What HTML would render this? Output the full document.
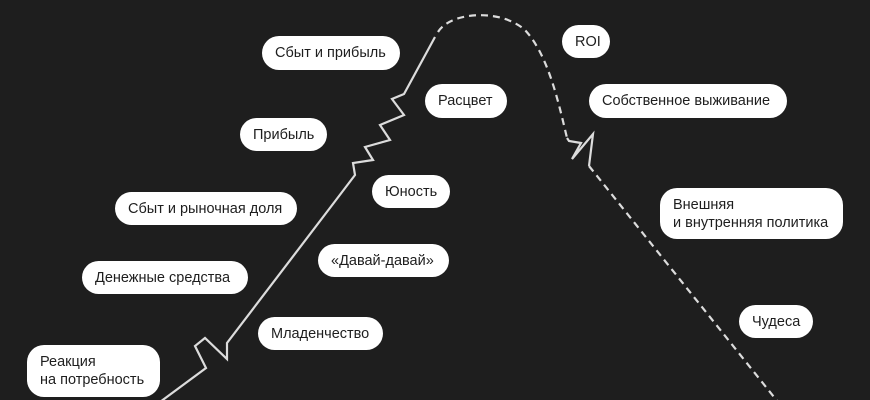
<!DOCTYPE html>
<html><head><meta charset="utf-8"><style>
body{margin:0;width:870px;height:400px;background:#1e1e1e;overflow:hidden;position:relative;font-family:"Liberation Sans","Noto Sans CJK SC",sans-serif}
.p{position:absolute;background:#fff;color:#1e1e1e;border-radius:17px;font-size:14.5px;line-height:18px;box-sizing:border-box;padding:8px 13px;white-space:nowrap}
svg{position:absolute;left:0;top:0}
</style></head><body>
<svg width="870" height="400" viewBox="0 0 870 400">
<g fill="none" stroke="#dcdcdc" stroke-width="2.2" stroke-linejoin="miter">
<polyline points="160,402 206,368 195,346 205,338 227,359 227,343 336,200 355,175 353,163 373,160 365,147 390,140 380,125 404,115 392,99 404,94 435,37"/>
<path d="M438,32 C450,12 500,8 525,30 C548,55 558,100 567,138" stroke-dasharray="7,5"/>
<polyline points="567,138 569,141 581,143 572,159 593,134 589,166"/>
<path d="M589,166 L778,402" stroke-dasharray="7,5"/>
</g>
</svg>
<div class="p" style="left:262px;top:36px;width:138px;height:34px">Сбыт и прибыль</div>
<div class="p" style="left:240px;top:118px;width:87px;height:33px">Прибыль</div>
<div class="p" style="left:425px;top:84px;width:82px;height:34px">Расцвет</div>
<div class="p" style="left:372px;top:175px;width:78px;height:33px">Юность</div>
<div class="p" style="left:115px;top:192px;width:182px;height:33px">Сбыт и рыночная доля</div>
<div class="p" style="left:82px;top:261px;width:166px;height:33px">Денежные средства</div>
<div class="p" style="left:318px;top:244px;width:131px;height:33px">«Давай-давай»</div>
<div class="p" style="left:258px;top:317px;width:125px;height:33px">Младенчество</div>
<div class="p" style="left:27px;top:345px;width:133px;height:52px">Реакция<br>на потребность</div>
<div class="p" style="left:562px;top:25px;width:48px;height:33px">ROI</div>
<div class="p" style="left:589px;top:84px;width:198px;height:34px">Собственное выживание</div>
<div class="p" style="left:660px;top:188px;width:183px;height:51px">Внешняя<br>и внутренняя политика</div>
<div class="p" style="left:739px;top:305px;width:74px;height:33px">Чудеса</div>
</body></html>
